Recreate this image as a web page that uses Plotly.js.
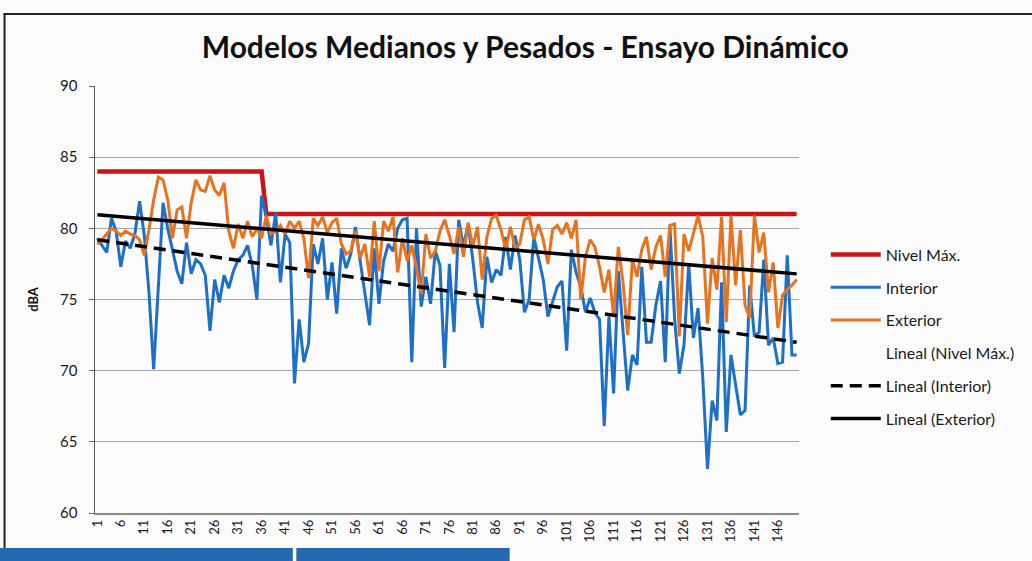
<!DOCTYPE html>
<html>
<head>
<meta charset="utf-8">
<script src="https://cdn.plot.ly/plotly-3.0.1.min.js"></script>
<style>html,body{margin:0;padding:0;background:#FBFBFC;}#chart{width:1032px;height:561px;}</style>
</head>
<body>
<div id="chart"></div>
<script>
// ---- data ----
var interior = [
 79.3, 78.8, 78.3, 80.7, 79.8, 77.3, 79.1, 78.6, 79.6, 81.9,
 79.5, 75.5, 70.1, 75.9, 81.8, 80.0, 78.5, 77.0, 76.1, 79.0,
 76.8, 77.8, 77.5, 76.7, 72.8, 76.4, 74.8, 76.7, 75.8, 77.0,
 77.8, 78.1, 78.8, 77.4, 75.0, 82.3, 80.8, 78.8, 81.1, 76.2,
 79.6, 79.0, 69.1, 73.6, 70.6, 71.9, 78.9, 77.5, 79.3, 75.0,
 77.6, 74.0, 78.6, 77.2, 78.2, 80.1, 77.7, 75.4, 73.2, 78.6,
 74.7, 77.7, 78.9, 78.4, 80.0, 80.6, 80.7, 70.6, 80.0, 74.5,
 76.6, 74.7, 78.4, 77.4, 70.2, 77.5, 72.7, 80.6, 78.7, 80.3,
 77.8, 74.8, 73.0, 78.0, 76.2, 77.1, 76.7, 79.4, 77.1, 79.5,
 77.8, 74.1, 75.0, 79.4, 78.0, 76.4, 73.8, 74.8, 75.9, 76.3,
 71.4, 78.5, 76.9, 75.9, 74.1, 75.1, 74.1, 73.6, 66.1, 73.8,
 68.4, 77.0, 72.7, 68.6, 71.1, 70.4, 77.3, 72.0, 72.0, 74.6,
 76.3, 70.6, 80.1, 73.6, 69.8, 71.8, 77.5, 72.3, 74.4, 69.5,
 63.1, 67.9, 66.5, 76.2, 65.7, 71.1, 69.0, 66.9, 67.2, 76.0,
 72.4, 72.7, 77.8, 71.8, 72.3, 70.5, 70.6, 78.1, 71.1, 71.1
];
var exterior = [
 78.9, 79.2, 79.6, 80.0, 79.8, 79.5, 79.8, 79.6, 79.5, 79.2,
 78.1, 79.9, 82.0, 83.6, 83.4, 82.0, 79.3, 81.3, 81.5, 79.3,
 81.8, 83.4, 82.7, 82.6, 83.7, 82.7, 82.3, 83.2, 79.8, 78.6,
 80.3, 79.3, 80.5, 79.4, 80.0, 79.3, 80.9, 79.6, 79.8, 80.2,
 79.6, 80.5, 80.0, 80.5, 79.3, 76.5, 80.7, 80.2, 80.8, 79.7,
 80.4, 80.7, 78.9, 78.2, 78.4, 79.8, 77.9, 78.9, 76.6, 80.5,
 77.0, 80.5, 79.8, 80.8, 76.9, 79.3, 77.7, 78.8, 77.2, 75.4,
 79.6, 77.9, 78.4, 79.8, 80.6, 79.5, 78.2, 80.1, 78.0, 80.4,
 78.7, 80.1, 76.4, 79.4, 80.7, 80.9, 79.9, 78.5, 80.1, 78.6,
 78.9, 80.6, 80.8, 79.2, 80.3, 79.2, 77.5, 79.9, 80.2, 79.6,
 80.4, 79.3, 80.6, 75.0, 78.0, 79.2, 78.7, 77.3, 75.5, 77.1,
 73.8, 78.7, 76.2, 72.5, 77.8, 76.6, 78.5, 79.4, 77.1, 78.7,
 79.5, 76.6, 80.2, 80.3, 72.4, 79.6, 78.4, 79.7, 80.9, 79.4,
 73.3, 77.9, 75.7, 80.8, 73.4, 80.9, 76.0, 79.9, 74.6, 73.7,
 80.9, 78.3, 79.7, 75.5, 77.6, 73.0, 75.3, 75.7, 76.0, 76.4
];
// Nivel Máx. step: 84 dBA for tests 1-36, 81 dBA for tests 37-150
var nivelX = [1, 36, 37, 150];
var nivelY = [84, 84, 81, 81];
// linear trend lines (end values)
var trendX = [1, 150];
var trendInterior = [79.2, 72.0];
var trendExterior = [80.95, 76.8];
var xTickVals = [1,6,11,16,21,26,31,36,41,46,51,56,61,66,71,76,81,86,91,96,101,106,111,116,121,126,131,136,141,146];
var xTickText = xTickVals.map(String);
var seriesNames = ['Nivel Máx.', 'Interior', 'Exterior', 'Lineal (Nivel Máx.)', 'Lineal (Interior)', 'Lineal (Exterior)'];

var idx = interior.map(function(_, i){ return i + 1; });

var traces = [
  {x: nivelX, y: nivelY, name: seriesNames[0], mode: 'lines', legendgroup: 'a',
   line: {color: '#CC1414', width: 4.5}},
  {x: idx, y: interior, name: seriesNames[1], mode: 'lines', legendgroup: 'b',
   line: {color: '#1E6FC8', width: 3}},
  {x: idx, y: exterior, name: seriesNames[2], mode: 'lines', legendgroup: 'c',
   line: {color: '#E8731E', width: 3}},
  {x: [null], y: [null], name: seriesNames[3], mode: 'lines', legendgroup: 'd',
   line: {color: 'rgba(0,0,0,0)', width: 3}},
  {x: trendX, y: trendInterior, name: seriesNames[4], mode: 'lines', legendgroup: 'e',
   line: {color: '#000000', width: 3.5, dash: '12px,7px'}},
  {x: trendX, y: trendExterior, name: seriesNames[5], mode: 'lines', legendgroup: 'f',
   line: {color: '#000000', width: 3.5}}
];

var layout = {
  width: 1032, height: 561,
  margin: {l: 95, r: 229, t: 86, b: 48},
  paper_bgcolor: '#FBFBFC', plot_bgcolor: '#FBFBFC',
  font: {family: 'Lato, "Open Sans", sans-serif', color: '#1a1a1a'},
  title: {text: '<b>Modelos Medianos y Pesados - Ensayo Dinámico</b>',
          x: 0.509, xanchor: 'center', y: 0.915, yanchor: 'middle',
          font: {size: 30, color: '#111111'}},
  showlegend: true,
  xaxis: {range: [0.5, 150.5], tickmode: 'array', tickvals: xTickVals, ticktext: xTickText,
          tickangle: -90, tickfont: {size: 13, color: '#1a1a1a'}, showgrid: false,
          showline: true, linecolor: '#8c8c8c', linewidth: 1.5, zeroline: false, ticks: ''},
  yaxis: {range: [60, 90], tick0: 60, dtick: 5, gridcolor: '#A8A8A8', gridwidth: 1,
          showline: true, linecolor: '#555555', linewidth: 1.5, ticks: 'outside', ticklen: 5,
          tickcolor: '#666666', tickfont: {size: 15, color: '#1a1a1a'}, zeroline: false,
          ticklabelstandoff: 8,
          title: {text: '<b>dBA</b>', font: {size: 13, color: '#111111'}, standoff: 18}},
  legend: {x: 1.038, xanchor: 'left', y: 0.645, yanchor: 'top', font: {size: 16, color: '#1a1a1a'},
           tracegroupgap: 9, itemwidth: 50, bgcolor: 'rgba(0,0,0,0)'},
  shapes: [
    {type: 'line', xref: 'paper', yref: 'paper', x0: -0.13, x1: 1.34, y0: 1.1686, y1: 1.1686,
     line: {color: '#222222', width: 2}},
    {type: 'line', xref: 'paper', yref: 'paper', x0: -0.1285, x1: -0.1285, y0: 1.1686, y1: -0.082,
     line: {color: '#222222', width: 2}},
    {type: 'rect', xref: 'paper', yref: 'paper', x0: -0.14, x1: 0.281, y0: -0.082, y1: -0.12,
     fillcolor: '#2468B0', line: {width: 0}},
    {type: 'rect', xref: 'paper', yref: 'paper', x0: 0.286, x1: 0.589, y0: -0.082, y1: -0.12,
     fillcolor: '#2468B0', line: {width: 0}}
  ]
};

Plotly.newPlot('chart', traces, layout, {displayModeBar: false, staticPlot: true});
</script>
</body>
</html>
